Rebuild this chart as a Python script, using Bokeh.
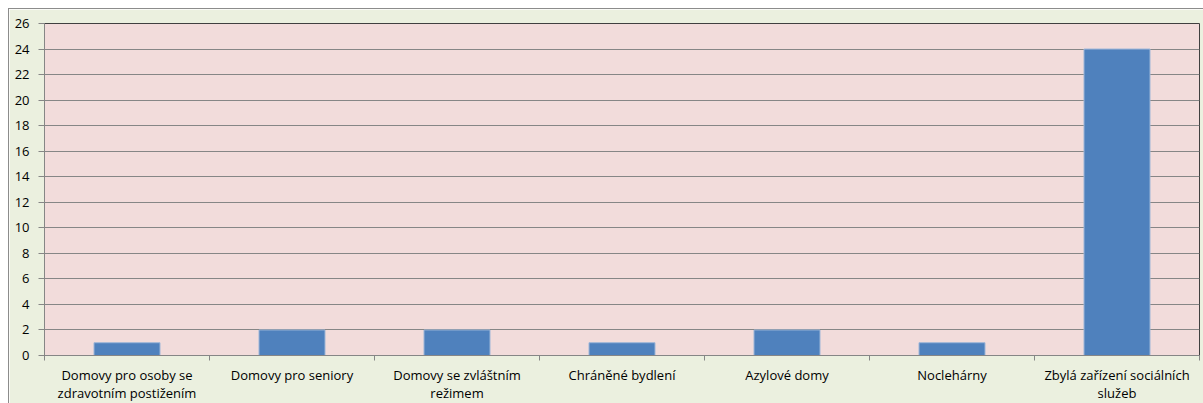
from bokeh.plotting import figure
from bokeh.models import FixedTicker, ColumnDataSource, Range1d
from bokeh.embed import file_html
from bokeh.resources import INLINE

categories = [
    "Domovy pro osoby se\nzdravotním postižením",
    "Domovy pro seniory",
    "Domovy se zvláštním\nrežimem",
    "Chráněné bydlení",
    "Azylové domy",
    "Noclehárny",
    "Zbylá zařízení sociálních\nslužeb",
]
values = [1, 2, 2, 1, 2, 1, 24]
y_ticks = list(range(0, 27, 2))

xs = [i + 0.5 for i in range(len(categories))]
src = ColumnDataSource(dict(x=xs, top=values))

p = figure(
    width=1195, height=395,
    frame_width=1155, frame_height=332,
    min_border_left=35, min_border_right=4, min_border_top=14, min_border_bottom=48,
    x_range=Range1d(0, len(categories)), y_range=Range1d(0, 26),
    output_backend="svg", toolbar_location=None,
    background_fill_color="#F2DCDB", border_fill_color="#EBF0DF",
)
p.styles = {"border": "1px solid #8c8c8c", "box-sizing": "border-box",
            "margin-left": "8px", "margin-top": "8px"}
p.outline_line_color = "#404040"
p.outline_line_width = 1

p.vbar(x="x", top="top", width=0.4, bottom=0, source=src,
       fill_color="#4F81BD", line_color="#9DB6D8", line_width=1)

font = "Open Sans"
# x axis
p.xaxis.ticker = FixedTicker(ticks=xs, minor_ticks=list(range(len(categories) + 1)))
p.xaxis.major_label_overrides = {x: c for x, c in zip(xs, categories)}
p.xaxis.major_tick_out = 0
p.xaxis.major_tick_in = 0
p.xaxis.minor_tick_out = 5
p.xaxis.minor_tick_in = 0
p.xaxis.minor_tick_line_color = "#868686"
p.xaxis.axis_line_color = "#868686"
p.xaxis.major_label_text_font = font
p.xaxis.major_label_text_font_size = "13px"
p.xaxis.major_label_text_color = "#000000"
p.xaxis.major_label_text_line_height = 1.0
p.xaxis.major_label_standoff = 5

# y axis
p.yaxis.ticker = FixedTicker(ticks=y_ticks)
p.yaxis.major_tick_out = 6
p.yaxis.major_tick_in = 0
p.yaxis.minor_tick_out = 0
p.yaxis.minor_tick_in = 0
p.yaxis.major_tick_line_color = "#868686"
p.yaxis.axis_line_color = "#868686"
p.yaxis.major_label_text_font = font
p.yaxis.major_label_text_font_size = "13px"
p.yaxis.major_label_text_color = "#000000"
p.yaxis.major_label_standoff = 9

p.xgrid.grid_line_color = None
p.ygrid.grid_line_color = "#868686"
p.ygrid.grid_line_width = 1

open("out.html", "w").write(file_html(p, INLINE))
